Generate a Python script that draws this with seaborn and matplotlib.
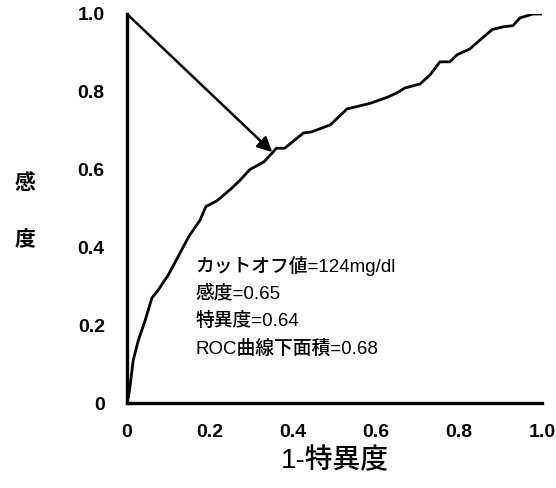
import matplotlib
matplotlib.use("Agg")
import matplotlib.pyplot as plt
import seaborn as sns
import pandas as pd

# ROC curve points (1 - specificity, sensitivity)
fpr = [0.0, 0.004, 0.007, 0.015, 0.027, 0.043, 0.06, 0.075, 0.10, 0.11, 0.13,
       0.15, 0.176, 0.19, 0.217, 0.25, 0.27, 0.296, 0.33, 0.35, 0.36, 0.38,
       0.425, 0.445, 0.49, 0.53, 0.585, 0.625, 0.65, 0.67, 0.706, 0.73, 0.754,
       0.778, 0.795, 0.826, 0.858, 0.88, 0.906, 0.93, 0.947, 0.978, 0.99, 1.0]
tpr = [0.0, 0.02, 0.04, 0.11, 0.16, 0.21, 0.27, 0.29, 0.33, 0.35, 0.39,
       0.43, 0.47, 0.505, 0.52, 0.55, 0.57, 0.60, 0.62, 0.643, 0.655, 0.655,
       0.694, 0.697, 0.715, 0.756, 0.77, 0.785, 0.797, 0.81, 0.82, 0.843, 0.877,
       0.877, 0.895, 0.91, 0.94, 0.96, 0.967, 0.97, 0.99, 1.0, 1.0, 1.0]

# Cut-off point and summary statistics
cutoff_x = 0.35
cutoff_y = 0.645
stats_lines = ["カットオフ値=124mg/dl", "感度=0.65", "特異度=0.64", "ROC曲線下面積=0.68"]

x_ticks = [0, 0.2, 0.4, 0.6, 0.8, 1.0]
x_tick_labels = ["0", "0.2", "0.4", "0.6", "0.8", "1.0"]
y_ticks = [0, 0.2, 0.4, 0.6, 0.8, 1.0]
y_tick_labels = ["0", "0.2", "0.4", "0.6", "0.8", "1.0"]

sns.set_theme(style="white")
plt.rcParams["font.family"] = ["Liberation Sans", "Noto Sans CJK JP", "DejaVu Sans"]
plt.rcParams["text.color"] = "black"
plt.rcParams["xtick.color"] = "black"
plt.rcParams["ytick.color"] = "black"
plt.rcParams["axes.labelcolor"] = "black"

df = pd.DataFrame({"fpr": fpr, "tpr": tpr})

fig = plt.figure(figsize=(5.56, 4.88), dpi=100)
ax = fig.add_axes([127 / 556, 1 - 403 / 488, 415 / 556, 389 / 488])

sns.lineplot(data=df, x="fpr", y="tpr", sort=False, color="black", lw=2.0,
             ax=ax, estimator=None)

ax.annotate("", xy=(cutoff_x, cutoff_y), xytext=(0.0, 1.0),
            arrowprops=dict(arrowstyle="-|>", lw=1.8, color="black",
                            mutation_scale=22, shrinkA=0, shrinkB=0))

ax.set_xlim(0, 1.0)
ax.set_ylim(0, 1.0)
ax.set_xticks(x_ticks)
ax.set_yticks(y_ticks)
ax.set_xticklabels(x_tick_labels, fontsize=14, fontweight="bold")
ax.set_yticklabels(y_tick_labels, fontsize=14, fontweight="bold")
ax.tick_params(axis="both", direction="in", length=3, width=1.2, color="black",
               labelcolor="black")
ax.tick_params(axis="x", pad=15)
ax.tick_params(axis="y", pad=16)

for side in ["top", "right"]:
    ax.spines[side].set_visible(False)
for side in ["left", "bottom"]:
    ax.spines[side].set_linewidth(2.4)
    ax.spines[side].set_color("black")

ax.set_xlabel("1-特異度", fontsize=20, fontweight="medium", labelpad=5,
              color="black")
ax.set_ylabel("")
fig.text(25 / 556, 1 - 183 / 488, "感", fontsize=15, fontweight="bold",
         ha="center", va="center", color="black")
fig.text(25 / 556, 1 - 240 / 488, "度", fontsize=15, fontweight="bold",
         ha="center", va="center", color="black")

for i, line in enumerate(stats_lines):
    ax.text(0.165, 0.352 - i * 0.071, line, fontsize=13.5, fontweight="medium",
            ha="left", va="center", color="black")

ax.set_facecolor("white")
fig.patch.set_facecolor("white")
fig.savefig("out.png", dpi=100)
